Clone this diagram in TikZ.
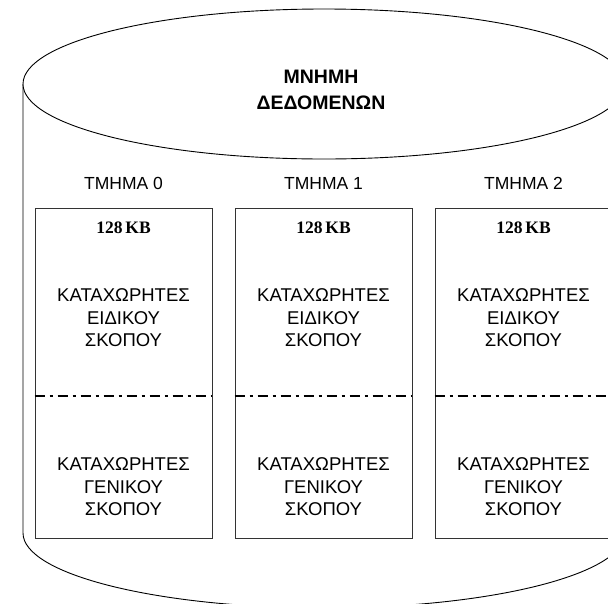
\documentclass[tikz,border=0pt]{standalone}
\usepackage{fontspec}
\setmainfont{Liberation Sans}
\newfontfamily\kbfont{Liberation Serif}
\begin{document}
\begin{tikzpicture}[x=1pt,y=-1pt,
  outline/.style={draw=black, line width=0.9pt},
  segbox/.style={draw=black!80, line width=0.9pt, minimum width=177pt, minimum height=330pt, inner sep=0pt},
  divider/.style={line width=2.6pt, dash pattern=on 10pt off 5pt on 3pt off 5pt},
  title/.style={font=\fontsize{19.5}{26}\selectfont\bfseries, align=center},
  seglabel/.style={font=\fontsize{17.5}{20}\selectfont},
  sizelabel/.style={font=\kbfont\fontsize{17.5}{20}\selectfont\bfseries},
  reglabel/.style={font=\fontsize{18.5}{22.5}\selectfont, align=center}]
\useasboundingbox (0,0) rectangle (608,603);
\begin{scope}
\clip (0,0) rectangle (608,603);
% cylinder body and lids
\draw[outline] (23,84) -- (23,533)
  arc[start angle=180, end angle=0, x radius=301, y radius=75]
  -- (625,84);
\draw[outline, fill=white] (324,84) ellipse[x radius=301, y radius=75];
\node[title] (mem) at (321,90) {ΜΝΗΜΗ\\ΔΕΔΟΜΕΝΩΝ};
% three memory segments
\foreach \i/\cx in {0/123.5, 1/323.5, 2/523.5} {
  \node[seglabel] (seg\i) at (\cx,183) {ΤΜΗΜΑ \i};
  \node[segbox] (box\i) at (\cx,373) {};
  \node[sizelabel] (size\i) at (\cx,228) {128\,KB};
  \node[reglabel] (spec\i) at (\cx,318) {ΚΑΤΑΧΩΡΗΤΕΣ\\ΕΙΔΙΚΟΥ\\ΣΚΟΠΟΥ};
  \node[reglabel] (gen\i) at (\cx,487) {ΚΑΤΑΧΩΡΗΤΕΣ\\ΓΕΝΙΚΟΥ\\ΣΚΟΠΟΥ};
  \coordinate (dl\i) at (box\i.west |- 0,396);
  \coordinate (dr\i) at (box\i.east |- 0,396);
  \draw[divider] (dl\i) -- (dr\i);
}
\end{scope}
\end{tikzpicture}
\end{document}
